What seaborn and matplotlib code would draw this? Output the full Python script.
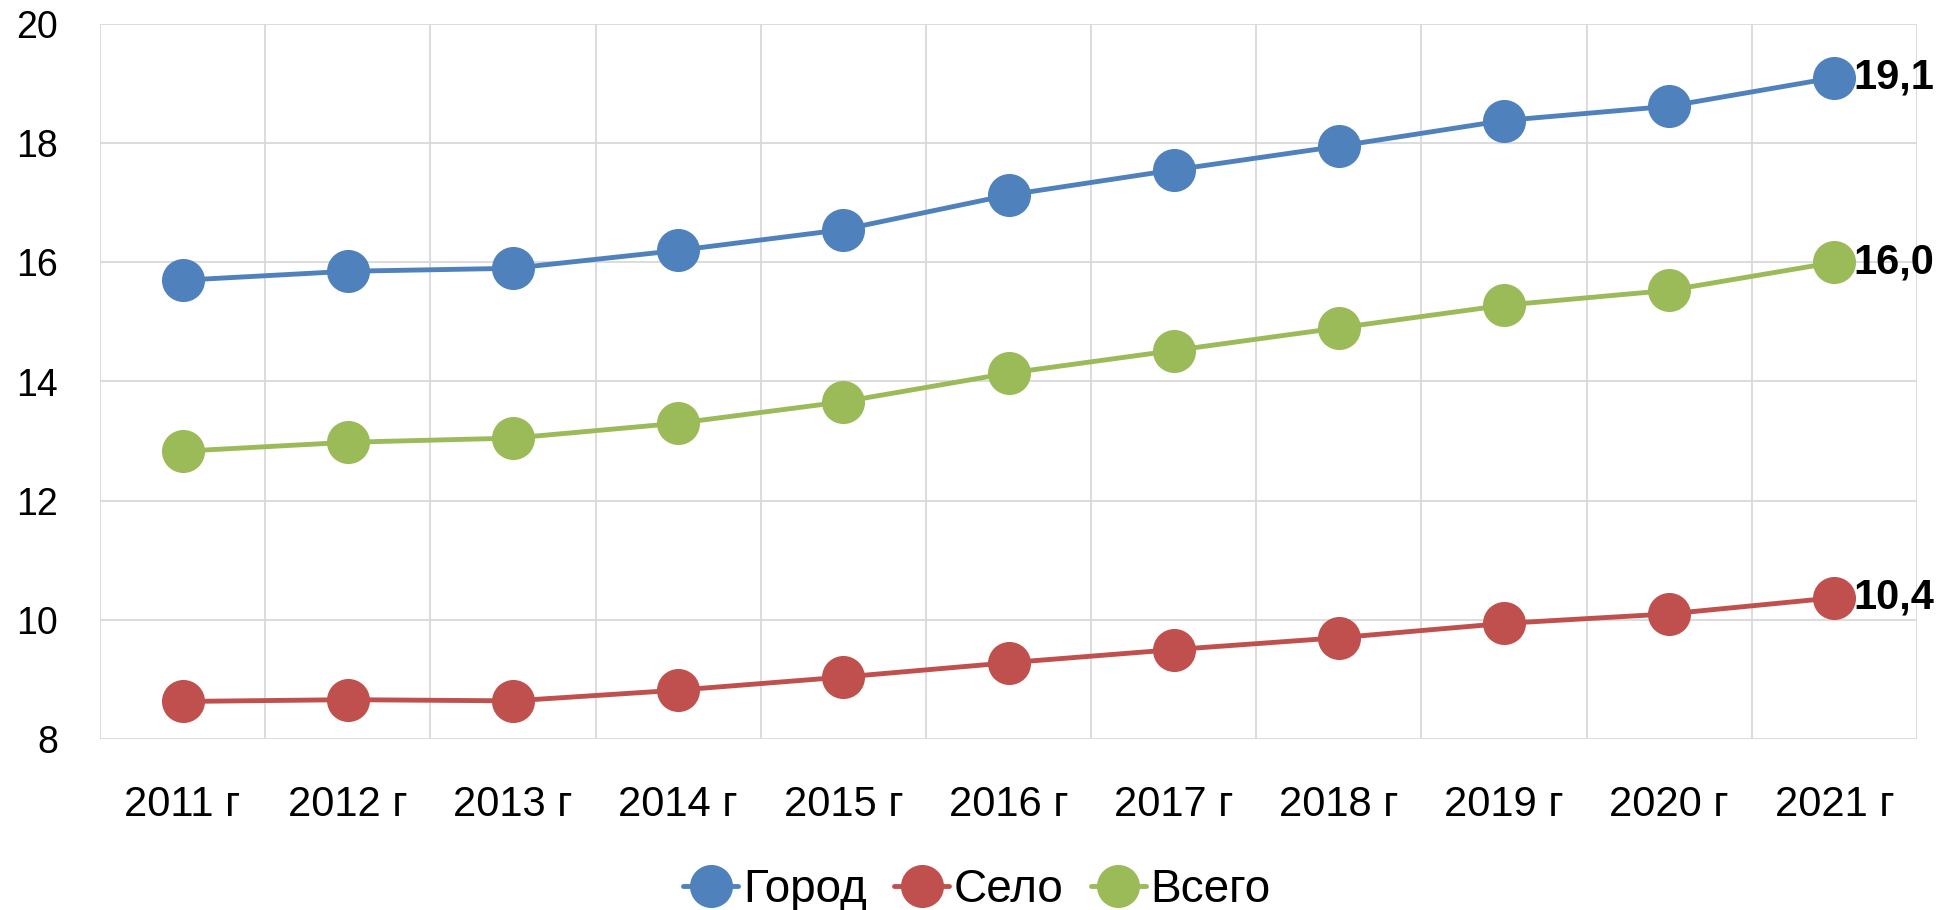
import numpy as np
import pandas as pd
import matplotlib
matplotlib.use('Agg')
import matplotlib.pyplot as plt
import seaborn as sns

years = ['2011 г', '2012 г', '2013 г', '2014 г', '2015 г', '2016 г',
         '2017 г', '2018 г', '2019 г', '2020 г', '2021 г']
gorod = [15.7, 15.85, 15.9, 16.2, 16.55, 17.13, 17.55, 17.95, 18.38, 18.62, 19.1]
selo = [8.63, 8.66, 8.64, 8.82, 9.04, 9.28, 9.5, 9.7, 9.94, 10.1, 10.37]
vsego = [12.83, 12.98, 13.05, 13.3, 13.66, 14.14, 14.52, 14.9, 15.28, 15.53, 16.0]
end_labels = ['19,1', '10,4', '16,0']

series_names = ['Город', 'Село', 'Всего']
colors = ['#4F81BD', '#C0504D', '#9BBB59']

sns.set_style('white')
plt.rcParams['font.family'] = ['Liberation Sans', 'DejaVu Sans']
plt.rcParams['text.color'] = 'black'
plt.rcParams['xtick.color'] = 'black'
plt.rcParams['ytick.color'] = 'black'

fig = plt.figure(figsize=(19.54, 9.10), dpi=100)
ax = fig.add_axes([100/1954, 1-739/910, (1917-100)/1954, (739-24)/910])

x = np.arange(len(years))
for name, vals, c, lab in zip(series_names, [gorod, selo, vsego], colors, end_labels):
    sns.lineplot(x=x, y=vals, ax=ax, color=c, marker='o', markersize=31,
                 markeredgewidth=0, linewidth=3.5, label=name)
    ax.annotate(lab, (x[-1], vals[-1]), xytext=(14, 0), textcoords='offset points',
                ha='left', va='center', fontsize=30, fontweight='bold',
                color='black', annotation_clip=False)

ax.set_xlim(-0.5, len(years) - 0.5)
ax.set_ylim(8, 20)
ax.set_yticks(np.arange(8, 21, 2))
ax.set_xticks(x)
ax.set_xticklabels(years)
ax.set_xticks(np.arange(-0.5, len(years), 1), minor=True)
ax.grid(False)
ax.grid(axis='y', which='major', color='#d9d9d9', linewidth=1.3)
ax.grid(axis='x', which='minor', color='#d9d9d9', linewidth=1.3)
for s in ax.spines.values():
    s.set_visible(False)
ax.tick_params(axis='both', which='both', length=0)
ax.tick_params(axis='y', labelsize=27, pad=30)
ax.tick_params(axis='x', labelsize=30, pad=33)
ax.set_xlabel('')
ax.set_ylabel('')

ax.get_legend().remove()
h, l = ax.get_legend_handles_labels()
fig.legend(h, l, loc='center', bbox_to_anchor=(0.5, 1-890/910), ncol=3,
           frameon=False, fontsize=33, handlelength=1.2, handletextpad=0.1,
           columnspacing=0.6, borderaxespad=0)

fig.savefig('out.png', dpi=100)
